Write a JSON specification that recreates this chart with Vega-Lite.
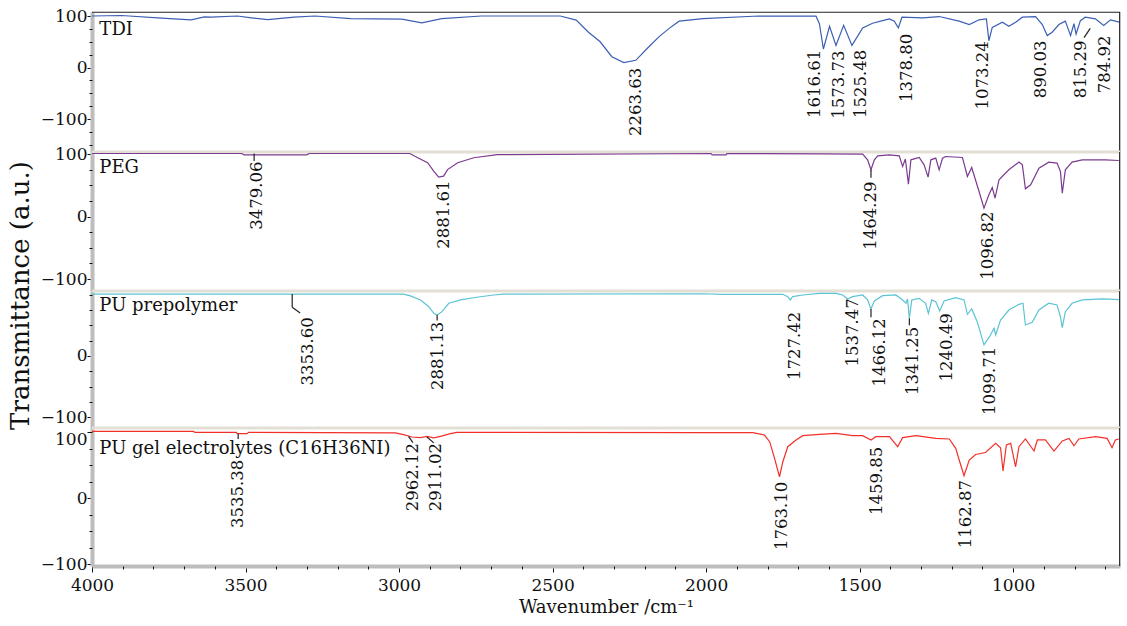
{
"$schema": "https://vega.github.io/schema/vega-lite/v6.json",
"background": "white",
"padding": {"left": 6, "top": 7, "right": 8, "bottom": 4},
"spacing": 0,
"bounds": "flush",
"config": {"view": {"stroke": null}, "font": "DejaVu Serif", "text": {"font": "DejaVu Serif", "color": "#111111"}, "axis": {"labelOverlap": false, "grid": false, "domainColor": "#bdbdbd", "domainWidth": 4, "tickColor": "#111111", "labelFontSize": 17, "labelFont": "DejaVu Serif", "labelColor": "#111111", "format": "d"}},
"datasets": {
"spectra": [
{"p":"TDI","wn":4000,"v":100},{"p":"TDI","wn":3904,"v":101},{"p":"TDI","wn":3774,"v":96},{"p":"TDI","wn":3677,"v":92.6},{"p":"TDI","wn":3634,"v":98.4},{"p":"TDI","wn":3612,"v":98},{"p":"TDI","wn":3527,"v":100},{"p":"TDI","wn":3480,"v":96.5},{"p":"TDI","wn":3428,"v":93},{"p":"TDI","wn":3342,"v":98},{"p":"TDI","wn":3274,"v":100},{"p":"TDI","wn":3158,"v":95},{"p":"TDI","wn":2991,"v":94},{"p":"TDI","wn":2926,"v":86.7},{"p":"TDI","wn":2861,"v":95},{"p":"TDI","wn":2732,"v":100},{"p":"TDI","wn":2475,"v":100},{"p":"TDI","wn":2423,"v":92},{"p":"TDI","wn":2384,"v":69},{"p":"TDI","wn":2345,"v":50},{"p":"TDI","wn":2307,"v":21},{"p":"TDI","wn":2268,"v":9.7},{"p":"TDI","wn":2229,"v":14},{"p":"TDI","wn":2192,"v":37},{"p":"TDI","wn":2153,"v":60},{"p":"TDI","wn":2120,"v":76},{"p":"TDI","wn":2088,"v":90},{"p":"TDI","wn":2010,"v":95},{"p":"TDI","wn":1829,"v":100},{"p":"TDI","wn":1750,"v":99.6},{"p":"TDI","wn":1642,"v":99.6},{"p":"TDI","wn":1631,"v":85},{"p":"TDI","wn":1618,"v":36},{"p":"TDI","wn":1598,"v":80},{"p":"TDI","wn":1577,"v":43},{"p":"TDI","wn":1552,"v":82},{"p":"TDI","wn":1525,"v":43},{"p":"TDI","wn":1490,"v":77},{"p":"TDI","wn":1458,"v":86},{"p":"TDI","wn":1425,"v":91},{"p":"TDI","wn":1403,"v":94.5},{"p":"TDI","wn":1387,"v":90},{"p":"TDI","wn":1374,"v":77},{"p":"TDI","wn":1362,"v":97.7},{"p":"TDI","wn":1295,"v":96.5},{"p":"TDI","wn":1241,"v":99},{"p":"TDI","wn":1176,"v":90},{"p":"TDI","wn":1143,"v":83.5},{"p":"TDI","wn":1111,"v":92.6},{"p":"TDI","wn":1087,"v":94.5},{"p":"TDI","wn":1079,"v":52},{"p":"TDI","wn":1068,"v":78},{"p":"TDI","wn":1035,"v":88},{"p":"TDI","wn":1014,"v":80},{"p":"TDI","wn":992,"v":88},{"p":"TDI","wn":970,"v":97.7},{"p":"TDI","wn":927,"v":99},{"p":"TDI","wn":905,"v":83.5},{"p":"TDI","wn":889,"v":62},{"p":"TDI","wn":873,"v":68.6},{"p":"TDI","wn":851,"v":83.5},{"p":"TDI","wn":830,"v":90},{"p":"TDI","wn":813,"v":62},{"p":"TDI","wn":802,"v":85},{"p":"TDI","wn":795,"v":65},{"p":"TDI","wn":781,"v":91},{"p":"TDI","wn":765,"v":97.7},{"p":"TDI","wn":732,"v":94.5},{"p":"TDI","wn":705,"v":81.5},{"p":"TDI","wn":683,"v":92.6},{"p":"TDI","wn":654,"v":88},
{"p":"PEG","wn":4000,"v":100.8},{"p":"PEG","wn":3512,"v":100.8},{"p":"PEG","wn":3505,"v":98.7},{"p":"PEG","wn":3300,"v":98.7},{"p":"PEG","wn":3293,"v":100.8},{"p":"PEG","wn":2965,"v":100.8},{"p":"PEG","wn":2939,"v":94},{"p":"PEG","wn":2907,"v":86},{"p":"PEG","wn":2887,"v":72.6},{"p":"PEG","wn":2871,"v":63},{"p":"PEG","wn":2855,"v":64.6},{"p":"PEG","wn":2842,"v":75},{"p":"PEG","wn":2809,"v":86},{"p":"PEG","wn":2757,"v":94},{"p":"PEG","wn":2680,"v":99},{"p":"PEG","wn":1984,"v":100.8},{"p":"PEG","wn":1980,"v":98.7},{"p":"PEG","wn":1935,"v":98.7},{"p":"PEG","wn":1932,"v":100.8},{"p":"PEG","wn":1620,"v":100.3},{"p":"PEG","wn":1490,"v":99.8},{"p":"PEG","wn":1474,"v":90.7},{"p":"PEG","wn":1463,"v":74.7},{"p":"PEG","wn":1452,"v":90.7},{"p":"PEG","wn":1441,"v":97},{"p":"PEG","wn":1403,"v":98.7},{"p":"PEG","wn":1371,"v":97},{"p":"PEG","wn":1360,"v":80},{"p":"PEG","wn":1351,"v":92},{"p":"PEG","wn":1341,"v":51.8},{"p":"PEG","wn":1333,"v":90.7},{"p":"PEG","wn":1306,"v":94.4},{"p":"PEG","wn":1290,"v":82.7},{"p":"PEG","wn":1277,"v":63},{"p":"PEG","wn":1268,"v":90.7},{"p":"PEG","wn":1252,"v":93.4},{"p":"PEG","wn":1241,"v":74.7},{"p":"PEG","wn":1230,"v":93.4},{"p":"PEG","wn":1220,"v":96},{"p":"PEG","wn":1165,"v":94.4},{"p":"PEG","wn":1149,"v":64},{"p":"PEG","wn":1135,"v":78.4},{"p":"PEG","wn":1111,"v":40},{"p":"PEG","wn":1095,"v":13.4},{"p":"PEG","wn":1079,"v":34.7},{"p":"PEG","wn":1068,"v":46.4},{"p":"PEG","wn":1059,"v":29.4},{"p":"PEG","wn":1046,"v":58.7},{"p":"PEG","wn":1014,"v":74.7},{"p":"PEG","wn":981,"v":87},{"p":"PEG","wn":970,"v":82.7},{"p":"PEG","wn":960,"v":44.3},{"p":"PEG","wn":943,"v":50.7},{"p":"PEG","wn":916,"v":77.4},{"p":"PEG","wn":884,"v":87},{"p":"PEG","wn":857,"v":85.4},{"p":"PEG","wn":846,"v":72},{"p":"PEG","wn":840,"v":37.4},{"p":"PEG","wn":830,"v":74.7},{"p":"PEG","wn":808,"v":87},{"p":"PEG","wn":775,"v":90.7},{"p":"PEG","wn":700,"v":90.7},{"p":"PEG","wn":656,"v":89.6},
{"p":"PU","wn":4000,"v":101},{"p":"PU","wn":2985,"v":101},{"p":"PU","wn":2963,"v":98},{"p":"PU","wn":2930,"v":91.4},{"p":"PU","wn":2903,"v":80.4},{"p":"PU","wn":2887,"v":69.6},{"p":"PU","wn":2876,"v":66.9},{"p":"PU","wn":2860,"v":72.3},{"p":"PU","wn":2838,"v":86},{"p":"PU","wn":2800,"v":91.4},{"p":"PU","wn":2747,"v":95.8},{"p":"PU","wn":2692,"v":99.5},{"p":"PU","wn":2660,"v":101},{"p":"PU","wn":2010,"v":101.5},{"p":"PU","wn":1945,"v":100.6},{"p":"PU","wn":1750,"v":100.6},{"p":"PU","wn":1734,"v":96.8},{"p":"PU","wn":1726,"v":91.4},{"p":"PU","wn":1718,"v":96.8},{"p":"PU","wn":1685,"v":99.5},{"p":"PU","wn":1631,"v":102},{"p":"PU","wn":1577,"v":102},{"p":"PU","wn":1555,"v":99.5},{"p":"PU","wn":1539,"v":93},{"p":"PU","wn":1523,"v":96.8},{"p":"PU","wn":1490,"v":99.5},{"p":"PU","wn":1474,"v":91.4},{"p":"PU","wn":1463,"v":76.7},{"p":"PU","wn":1452,"v":89.7},{"p":"PU","wn":1425,"v":98.4},{"p":"PU","wn":1382,"v":99.5},{"p":"PU","wn":1360,"v":91.4},{"p":"PU","wn":1349,"v":86},{"p":"PU","wn":1344,"v":93},{"p":"PU","wn":1338,"v":61.5},{"p":"PU","wn":1330,"v":91.4},{"p":"PU","wn":1306,"v":94},{"p":"PU","wn":1285,"v":86},{"p":"PU","wn":1276,"v":69.6},{"p":"PU","wn":1265,"v":91.4},{"p":"PU","wn":1252,"v":88.6},{"p":"PU","wn":1239,"v":73.4},{"p":"PU","wn":1225,"v":89.7},{"p":"PU","wn":1187,"v":95.1},{"p":"PU","wn":1160,"v":91.4},{"p":"PU","wn":1149,"v":68},{"p":"PU","wn":1135,"v":76.7},{"p":"PU","wn":1117,"v":56},{"p":"PU","wn":1095,"v":18},{"p":"PU","wn":1077,"v":31.5},{"p":"PU","wn":1062,"v":45.2},{"p":"PU","wn":1057,"v":34.3},{"p":"PU","wn":1041,"v":58.7},{"p":"PU","wn":1014,"v":75},{"p":"PU","wn":981,"v":84.3},{"p":"PU","wn":968,"v":86},{"p":"PU","wn":960,"v":50.6},{"p":"PU","wn":938,"v":55},{"p":"PU","wn":916,"v":75},{"p":"PU","wn":884,"v":86},{"p":"PU","wn":857,"v":83.2},{"p":"PU","wn":846,"v":64},{"p":"PU","wn":840,"v":46.2},{"p":"PU","wn":830,"v":72.3},{"p":"PU","wn":808,"v":86},{"p":"PU","wn":775,"v":91.4},{"p":"PU","wn":710,"v":93},{"p":"PU","wn":656,"v":91.8},
{"p":"GEL","wn":4000,"v":101},{"p":"GEL","wn":3670,"v":101},{"p":"GEL","wn":3665,"v":99.4},{"p":"GEL","wn":3530,"v":99.4},{"p":"GEL","wn":3527,"v":97.4},{"p":"GEL","wn":3495,"v":97.4},{"p":"GEL","wn":3490,"v":99.4},{"p":"GEL","wn":3012,"v":98.5},{"p":"GEL","wn":2985,"v":96},{"p":"GEL","wn":2958,"v":92.4},{"p":"GEL","wn":2930,"v":91.4},{"p":"GEL","wn":2909,"v":93.4},{"p":"GEL","wn":2887,"v":91},{"p":"GEL","wn":2865,"v":93.4},{"p":"GEL","wn":2833,"v":97.4},{"p":"GEL","wn":2812,"v":99.4},{"p":"GEL","wn":2010,"v":98.9},{"p":"GEL","wn":1848,"v":98.9},{"p":"GEL","wn":1810,"v":95.4},{"p":"GEL","wn":1793,"v":85.3},{"p":"GEL","wn":1777,"v":60},{"p":"GEL","wn":1761,"v":32.3},{"p":"GEL","wn":1750,"v":55},{"p":"GEL","wn":1734,"v":77.7},{"p":"GEL","wn":1707,"v":87.9},{"p":"GEL","wn":1685,"v":94.4},{"p":"GEL","wn":1631,"v":96.4},{"p":"GEL","wn":1577,"v":97.9},{"p":"GEL","wn":1523,"v":94.4},{"p":"GEL","wn":1490,"v":94.4},{"p":"GEL","wn":1463,"v":87.9},{"p":"GEL","wn":1447,"v":92.9},{"p":"GEL","wn":1403,"v":92.9},{"p":"GEL","wn":1376,"v":77.7},{"p":"GEL","wn":1360,"v":91.4},{"p":"GEL","wn":1317,"v":94.4},{"p":"GEL","wn":1252,"v":90.3},{"p":"GEL","wn":1208,"v":89.4},{"p":"GEL","wn":1187,"v":75.2},{"p":"GEL","wn":1174,"v":55},{"p":"GEL","wn":1160,"v":33.8},{"p":"GEL","wn":1143,"v":57.6},{"p":"GEL","wn":1122,"v":66},{"p":"GEL","wn":1090,"v":69},{"p":"GEL","wn":1057,"v":82.7},{"p":"GEL","wn":1041,"v":76.2},{"p":"GEL","wn":1033,"v":41},{"p":"GEL","wn":1022,"v":80.3},{"p":"GEL","wn":1008,"v":82.7},{"p":"GEL","wn":992,"v":47.4},{"p":"GEL","wn":981,"v":77.7},{"p":"GEL","wn":960,"v":89.4},{"p":"GEL","wn":932,"v":71.2},{"p":"GEL","wn":921,"v":87.9},{"p":"GEL","wn":895,"v":87.9},{"p":"GEL","wn":867,"v":71.2},{"p":"GEL","wn":840,"v":86.4},{"p":"GEL","wn":818,"v":90.3},{"p":"GEL","wn":802,"v":79.2},{"p":"GEL","wn":786,"v":89.4},{"p":"GEL","wn":732,"v":92.9},{"p":"GEL","wn":694,"v":90.3},{"p":"GEL","wn":678,"v":76.2},{"p":"GEL","wn":667,"v":87.9},{"p":"GEL","wn":656,"v":89.4}
],
"labels": [
{"p":"TDI","wn":2229,"v":-0.6,"t":"2263.63"},{"p":"TDI","wn":1644,"v":34.4,"t":"1616.61"},{"p":"TDI","wn":1566,"v":33,"t":"1573.73"},{"p":"TDI","wn":1496,"v":34.4,"t":"1525.48"},{"p":"TDI","wn":1347,"v":65.4,"t":"1378.80"},{"p":"TDI","wn":1097,"v":51,"t":"1073.24"},{"p":"TDI","wn":908,"v":52.4,"t":"890.03"},{"p":"TDI","wn":778,"v":52.4,"t":"815.29"},{"p":"TDI","wn":702,"v":62,"t":"784.92"},
{"p":"PEG","wn":3462,"v":88,"t":"3479.06"},{"p":"PEG","wn":2855,"v":57.6,"t":"2881.61"},{"p":"PEG","wn":1463,"v":56,"t":"1464.29"},{"p":"PEG","wn":1082,"v":8,"t":"1096.82"},
{"p":"PU","wn":3297,"v":63,"t":"3353.60"},{"p":"PU","wn":2874,"v":56,"t":"2881.13"},{"p":"PU","wn":1710,"v":72.3,"t":"1727.42"},{"p":"PU","wn":1520,"v":94,"t":"1537.47"},{"p":"PU","wn":1434,"v":61.5,"t":"1466.12"},{"p":"PU","wn":1325,"v":47.8,"t":"1341.25"},{"p":"PU","wn":1216,"v":69.6,"t":"1240.49"},{"p":"PU","wn":1077,"v":15.2,"t":"1099.71"},
{"p":"GEL","wn":3524,"v":58,"t":"3535.38"},{"p":"GEL","wn":2956,"v":83.3,"t":"2962.12"},{"p":"GEL","wn":2880,"v":83.3,"t":"2911.02"},{"p":"GEL","wn":1753,"v":24.7,"t":"1763.10"},{"p":"GEL","wn":1445,"v":77.7,"t":"1459.85"},{"p":"GEL","wn":1152,"v":27.3,"t":"1162.87"}
],
"leaders": [
{"p":"TDI","wn":769,"v":58,"wn2":749,"v2":76},
{"p":"TDI","wn":4000,"v":107.3,"wn2":652,"v2":107.3},{"p":"TDI","wn":653,"v":107.8,"wn2":653,"v2":-164},
{"p":"PEG","wn":3472,"v":100.8,"wn2":3472,"v2":89},{"p":"PEG","wn":1463,"v":74.7,"wn2":1463,"v2":62},
{"p":"PEG","wn":653,"v":103.2,"wn2":653,"v2":-119.2},
{"p":"PU","wn":3348,"v":101,"wn2":3348,"v2":79.4},{"p":"PU","wn":3348,"v":79.4,"wn2":3322,"v2":70},{"p":"PU","wn":2876,"v":66.9,"wn2":2876,"v2":58},{"p":"PU","wn":1463,"v":76.7,"wn2":1463,"v2":63},{"p":"PU","wn":1338,"v":61.5,"wn2":1338,"v2":50},
{"p":"PU","wn":653,"v":106,"wn2":653,"v2":-117.5},
{"p":"GEL","wn":3524,"v":97.4,"wn2":3524,"v2":89.4},{"p":"GEL","wn":2969,"v":93.4,"wn2":2955,"v2":84},{"p":"GEL","wn":2909,"v":92.4,"wn2":2887,"v2":83.5},
{"p":"GEL","wn":653,"v":106,"wn2":653,"v2":-102.6}
],
"names": [
{"p":"TDI","wn":3976,"v":72,"t":"TDI"},{"p":"PEG","wn":3976,"v":78,"t":"PEG"},{"p":"PU","wn":3976,"v":81.6,"t":"PU prepolymer"},{"p":"GEL","wn":3976,"v":74.7,"t":"PU gel electrolytes (C16H36NI)"}
]
},
"vconcat": [
{
"width": 1028, "height": 140,
"resolve": {"axis": {"x": "independent", "y": "independent"}},
"layer": [
{"data": {"name": "spectra"}, "transform": [{"filter": "datum.p === 'TDI'"}], "mark": {"type": "line", "color": "#3c5fb3", "strokeWidth": 1.2},
 "encoding": {"x": {"field": "wn", "type": "quantitative", "scale": {"domain": [652, 4000], "reverse": true, "nice": false, "zero": false}, "axis": null},
  "y": {"field": "v", "type": "quantitative", "scale": {"domain": [-164, 107.8], "nice": false, "zero": false},
   "axis": {"orient": "left", "values": [-100, 0, 100], "tickSize": 5, "title": null, "labelPadding": 0}}}},
{"data": {"name": "labels"}, "transform": [{"filter": "datum.p === 'TDI'"}], "mark": {"type": "text", "angle": 270, "align": "right", "baseline": "middle", "fontSize": 16.5},
 "encoding": {"x": {"field": "wn", "type": "quantitative", "scale": {"domain": [652, 4000], "reverse": true, "nice": false, "zero": false}, "axis": null},
  "y": {"field": "v", "type": "quantitative", "scale": {"domain": [-164, 107.8], "nice": false, "zero": false},
   "axis": {"orient": "left", "values": [-150,-125,-75,-50,-25,25,50,75], "tickSize": 3, "labels": false, "domain": false, "title": null}}, "text": {"field": "t"}}},
{"data": {"name": "leaders"}, "transform": [{"filter": "datum.p === 'TDI'"}], "mark": {"type": "rule", "color": "#222222", "strokeWidth": 1.2},
 "encoding": {"x": {"field": "wn", "type": "quantitative", "scale": {"domain": [652, 4000], "reverse": true, "nice": false, "zero": false}, "axis": null}, "x2": {"field": "wn2"},
  "y": {"field": "v", "type": "quantitative", "scale": {"domain": [-164, 107.8], "nice": false, "zero": false}, "axis": null}, "y2": {"field": "v2"}}},
{"data": {"name": "names"}, "transform": [{"filter": "datum.p === 'TDI'"}], "mark": {"type": "text", "align": "left", "baseline": "middle", "fontSize": 18},
 "encoding": {"x": {"field": "wn", "type": "quantitative", "scale": {"domain": [652, 4000], "reverse": true, "nice": false, "zero": false}, "axis": null},
  "y": {"field": "v", "type": "quantitative", "scale": {"domain": [-164, 107.8], "nice": false, "zero": false}, "axis": null}, "text": {"field": "t"}}}
]
},
{
"width": 1028, "height": 139,
"resolve": {"axis": {"x": "independent", "y": "independent"}},
"layer": [
{"data": {"values": [{}]}, "mark": {"type": "rule", "color": "#e4dfd4", "strokeWidth": 3},
 "encoding": {"y": {"datum": 103.2, "type": "quantitative", "scale": {"domain": [-119.2, 103.2], "nice": false, "zero": false}, "axis": null}}},
{"data": {"name": "spectra"}, "transform": [{"filter": "datum.p === 'PEG'"}], "mark": {"type": "line", "color": "#7b3b8f", "strokeWidth": 1.2},
 "encoding": {"x": {"field": "wn", "type": "quantitative", "scale": {"domain": [652, 4000], "reverse": true, "nice": false, "zero": false}, "axis": null},
  "y": {"field": "v", "type": "quantitative", "scale": {"domain": [-119.2, 103.2], "nice": false, "zero": false},
   "axis": {"orient": "left", "values": [-100, 0, 100], "tickSize": 5, "labelPadding": 0,
    "title": "Transmittance (a.u.)", "titleFont": "DejaVu Serif", "titleFontSize": 26, "titleFontWeight": "normal", "titleColor": "#111111", "titleAngle": 270, "titleAlign": "center", "titleBaseline": "alphabetic", "titleX": -64, "titleY": 143}}}},
{"data": {"name": "labels"}, "transform": [{"filter": "datum.p === 'PEG'"}], "mark": {"type": "text", "angle": 270, "align": "right", "baseline": "middle", "fontSize": 16.5},
 "encoding": {"x": {"field": "wn", "type": "quantitative", "scale": {"domain": [652, 4000], "reverse": true, "nice": false, "zero": false}, "axis": null},
  "y": {"field": "v", "type": "quantitative", "scale": {"domain": [-119.2, 103.2], "nice": false, "zero": false},
   "axis": {"orient": "left", "values": [-75,-50,-25,25,50,75], "tickSize": 3, "labels": false, "domain": false, "title": null}}, "text": {"field": "t"}}},
{"data": {"name": "leaders"}, "transform": [{"filter": "datum.p === 'PEG'"}], "mark": {"type": "rule", "color": "#222222", "strokeWidth": 1.2},
 "encoding": {"x": {"field": "wn", "type": "quantitative", "scale": {"domain": [652, 4000], "reverse": true, "nice": false, "zero": false}, "axis": null}, "x2": {"field": "wn2"},
  "y": {"field": "v", "type": "quantitative", "scale": {"domain": [-119.2, 103.2], "nice": false, "zero": false}, "axis": null}, "y2": {"field": "v2"}}},
{"data": {"name": "names"}, "transform": [{"filter": "datum.p === 'PEG'"}], "mark": {"type": "text", "align": "left", "baseline": "middle", "fontSize": 18},
 "encoding": {"x": {"field": "wn", "type": "quantitative", "scale": {"domain": [652, 4000], "reverse": true, "nice": false, "zero": false}, "axis": null},
  "y": {"field": "v", "type": "quantitative", "scale": {"domain": [-119.2, 103.2], "nice": false, "zero": false}, "axis": null}, "text": {"field": "t"}}}
]
},
{
"width": 1028, "height": 137,
"resolve": {"axis": {"x": "independent", "y": "independent"}},
"layer": [
{"data": {"values": [{}]}, "mark": {"type": "rule", "color": "#e4dfd4", "strokeWidth": 3},
 "encoding": {"y": {"datum": 106, "type": "quantitative", "scale": {"domain": [-117.5, 106], "nice": false, "zero": false}, "axis": null}}},
{"data": {"name": "spectra"}, "transform": [{"filter": "datum.p === 'PU'"}], "mark": {"type": "line", "color": "#5cc3d3", "strokeWidth": 1.2},
 "encoding": {"x": {"field": "wn", "type": "quantitative", "scale": {"domain": [652, 4000], "reverse": true, "nice": false, "zero": false}, "axis": null},
  "y": {"field": "v", "type": "quantitative", "scale": {"domain": [-117.5, 106], "nice": false, "zero": false},
   "axis": {"orient": "left", "values": [-100, 0], "tickSize": 5, "title": null, "labelPadding": 0}}}},
{"data": {"name": "labels"}, "transform": [{"filter": "datum.p === 'PU'"}], "mark": {"type": "text", "angle": 270, "align": "right", "baseline": "middle", "fontSize": 16.5},
 "encoding": {"x": {"field": "wn", "type": "quantitative", "scale": {"domain": [652, 4000], "reverse": true, "nice": false, "zero": false}, "axis": null},
  "y": {"field": "v", "type": "quantitative", "scale": {"domain": [-117.5, 106], "nice": false, "zero": false},
   "axis": {"orient": "left", "values": [-75,-50,-25,25,50,75,100], "tickSize": 3, "labels": false, "domain": false, "title": null}}, "text": {"field": "t"}}},
{"data": {"name": "leaders"}, "transform": [{"filter": "datum.p === 'PU'"}], "mark": {"type": "rule", "color": "#222222", "strokeWidth": 1.2},
 "encoding": {"x": {"field": "wn", "type": "quantitative", "scale": {"domain": [652, 4000], "reverse": true, "nice": false, "zero": false}, "axis": null}, "x2": {"field": "wn2"},
  "y": {"field": "v", "type": "quantitative", "scale": {"domain": [-117.5, 106], "nice": false, "zero": false}, "axis": null}, "y2": {"field": "v2"}}},
{"data": {"name": "names"}, "transform": [{"filter": "datum.p === 'PU'"}], "mark": {"type": "text", "align": "left", "baseline": "middle", "fontSize": 18},
 "encoding": {"x": {"field": "wn", "type": "quantitative", "scale": {"domain": [652, 4000], "reverse": true, "nice": false, "zero": false}, "axis": null},
  "y": {"field": "v", "type": "quantitative", "scale": {"domain": [-117.5, 106], "nice": false, "zero": false}, "axis": null}, "text": {"field": "t"}}}
]
},
{
"width": 1028, "height": 138,
"resolve": {"axis": {"x": "independent", "y": "independent"}},
"layer": [
{"data": {"values": [{}]}, "mark": {"type": "rule", "color": "#e4dfd4", "strokeWidth": 3},
 "encoding": {"y": {"datum": 106, "type": "quantitative", "scale": {"domain": [-102.6, 106], "nice": false, "zero": false}, "axis": null}}},
{"data": {"name": "spectra"}, "transform": [{"filter": "datum.p === 'GEL'"}], "mark": {"type": "line", "color": "#f2302a", "strokeWidth": 1.2},
 "encoding": {"x": {"field": "wn", "type": "quantitative", "scale": {"domain": [652, 4000], "reverse": true, "nice": false, "zero": false},
   "axis": {"orient": "bottom", "values": [1000, 1500, 2000, 2500, 3000, 3500, 4000], "tickSize": 6, "labelPadding": 5, "labelFlush": false,
    "title": "Wavenumber /cm⁻¹", "titleFont": "DejaVu Serif", "titleFontSize": 18, "titleFontWeight": "normal", "titleColor": "#111111", "titlePadding": 5}},
  "y": {"field": "v", "type": "quantitative", "scale": {"domain": [-102.6, 106], "nice": false, "zero": false},
   "axis": {"orient": "left", "values": [-100, 0], "tickSize": 5, "title": null, "labelPadding": 0}}}},
{"data": {"name": "labels"}, "transform": [{"filter": "datum.p === 'GEL'"}], "mark": {"type": "text", "angle": 270, "align": "right", "baseline": "middle", "fontSize": 16.5},
 "encoding": {"x": {"field": "wn", "type": "quantitative", "scale": {"domain": [652, 4000], "reverse": true, "nice": false, "zero": false},
   "axis": {"orient": "bottom", "values": [700,800,900,1100,1200,1300,1400,1600,1700,1800,1900,2100,2200,2300,2400,2600,2700,2800,2900,3100,3200,3300,3400,3600,3700,3800,3900], "tickSize": 3, "labels": false, "domain": false, "title": null}},
  "y": {"field": "v", "type": "quantitative", "scale": {"domain": [-102.6, 106], "nice": false, "zero": false},
   "axis": {"orient": "left", "values": [-75,-50,-25,25,50,75], "tickSize": 3, "labels": false, "domain": false, "title": null}}, "text": {"field": "t"}}},
{"data": {"name": "leaders"}, "transform": [{"filter": "datum.p === 'GEL'"}], "mark": {"type": "rule", "color": "#222222", "strokeWidth": 1.2},
 "encoding": {"x": {"field": "wn", "type": "quantitative", "scale": {"domain": [652, 4000], "reverse": true, "nice": false, "zero": false}, "axis": null}, "x2": {"field": "wn2"},
  "y": {"field": "v", "type": "quantitative", "scale": {"domain": [-102.6, 106], "nice": false, "zero": false}, "axis": null}, "y2": {"field": "v2"}}},
{"data": {"name": "names"}, "transform": [{"filter": "datum.p === 'GEL'"}], "mark": {"type": "text", "align": "left", "baseline": "middle", "fontSize": 18},
 "encoding": {"x": {"field": "wn", "type": "quantitative", "scale": {"domain": [652, 4000], "reverse": true, "nice": false, "zero": false}, "axis": null},
  "y": {"field": "v", "type": "quantitative", "scale": {"domain": [-102.6, 106], "nice": false, "zero": false},
   "axis": {"orient": "left", "values": [100], "tickSize": 5, "labelOffset": 8, "labels": true, "domain": false, "title": null, "labelPadding": 0}}, "text": {"field": "t"}}}
]
}
]
}
